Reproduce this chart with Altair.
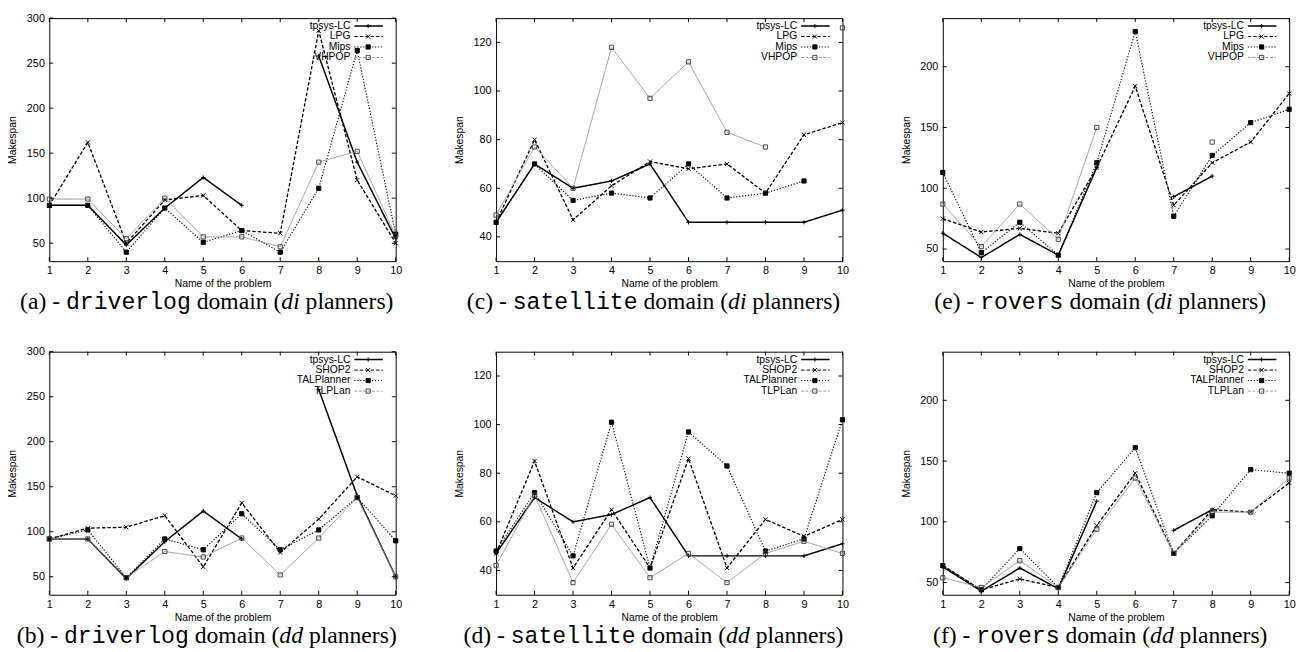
import altair as alt
import pandas as pd

problems = list(range(1, 11))

di_names = ["tpsys-LC", "LPG", "Mips", "VHPOP"]
dd_names = ["tpsys-LC", "SHOP2", "TALPlanner", "TLPLan"]

# driverlog
drv_di_tpsys = [92, 92, 48, 89, 123, 92, None, 258, 140, 55]
drv_di_lpg = [92, 162, 50, 98, 103, 64, 61, 286, 120, 50]
drv_di_mips = [92, 92, 40, 89, 51, 64, 40, 111, 264, 60]
drv_di_vhpop = [99, 99, 55, 100, 57, 57, 46, 140, 152, 58]
drv_dd_tpsys = [92, 92, 48, 89, 123, 92, None, 258, 140, 50]
drv_dd_shop2 = [92, 104, 105, 118, 61, 132, 77, 114, 161, 140]
drv_dd_tal = [92, 102, 49, 92, 80, 120, 80, 102, 138, 90]
drv_dd_tlplan = [92, 92, 49, 78, 72, 93, 52, 93, 138, 50]

# satellite
sat_di_tpsys = [46, 70, 60, 63, 70, 46, 46, 46, 46, 51]
sat_di_lpg = [46, 80, 47, 61, 71, 68, 70, 58, 82, 87]
sat_di_mips = [46, 70, 55, 58, 56, 70, 56, 58, 63, None]
sat_di_vhpop = [49, 77, 60, 118, 97, 112, 83, 77, None, 126]
sat_dd_tpsys = [47, 70, 60, 63, 70, 46, 46, 46, 46, 51]
sat_dd_shop2 = [47, 85, 41, 65, 41, 86, 41, 61, 54, 61]
sat_dd_tal = [48, 72, 46, 101, 41, 97, 83, 48, 53, 102]
sat_dd_tlplan = [42, 71, 35, 59, 37, 47, 35, 47, 52, 47]

# rovers
rov_di_tpsys = [63, 43, 62, 45, 117, None, 93, 110, None, None]
rov_di_lpg = [75, 64, 67, 63, 117, 184, 86, 121, 138, 178]
rov_di_mips = [113, 47, 72, 45, 121, 229, 77, 127, 154, 165]
rov_di_vhpop = [87, 52, 87, 58, 150, None, None, 138, None, None]
rov_dd_tpsys = [63, 43, 62, 45, 117, None, 93, 110, None, None]
rov_dd_shop2 = [64, 44, 53, 46, 97, 140, 74, 110, 108, 132]
rov_dd_tal = [64, 44, 78, 46, 124, 161, 74, 105, 143, 140]
rov_dd_tlplan = [54, 46, 68, 46, 94, 136, 74, 108, 108, 136]

drv_domain = [30, 300]
drv_ticks = [50, 100, 150, 200, 250, 300]
sat_domain = [30, 130]
sat_ticks = [40, 60, 80, 100, 120]
rov_domain = [40, 240]
rov_ticks = [50, 100, 150, 200]

W, H = 352, 247
STYLES = ["s0", "s1", "s2", "s3"]
dash_range = [[1, 0], [3.5, 2], [1.2, 1.8], [1, 0]]
leg_dash_range = [[1, 0], [3.5, 2], [1.2, 1.8], [3, 1.5]]
color_range = ["#000000", "#000000", "#000000", "#999999"]
width_range = [1.5, 1, 1, 1]
shape_range = ["M-1,0L1,0M0,-1L0,1", "M-1,-1L1,1M-1,1L1,-1", "square", "square"]
fill_range = ["transparent", "transparent", "#000000", "transparent"]
pstroke_range = ["#000000", "#000000", "#000000", "#444444"]
LEG_ROWS = [8, 18.7, 29.3, 40]

SANS = "Liberation Sans"
SERIF = "Liberation Serif"
MONO = "Liberation Mono"

SERIF_W = {"(": 333, ")": 333, " ": 250, "-": 333, "a": 444, "b": 500, "c": 444,
           "d": 500, "e": 444, "f": 333, "i": 278, "l": 278, "m": 778, "n": 500,
           "o": 500, "p": 500, "r": 333, "s": 389, "t": 278, "v": 500}
SERIF_SIZE = 24
MONO_SIZE = 23.5


def seg_width(s, kind):
    if kind == "mono":
        return 0.6 * MONO_SIZE * len(s)
    return sum(SERIF_W.get(c, 500) for c in s) / 1000 * SERIF_SIZE


def make_df(names, series):
    rows = []
    for k, (name, vals) in enumerate(zip(names, series)):
        run = 0
        prev_none = True
        for p, v in zip(problems, vals):
            if v is None:
                prev_none = True
                continue
            if prev_none:
                run += 1
                prev_none = False
            rows.append({"problem": p, "value": v, "style": STYLES[k],
                         "series": name, "seg": f"{STYLES[k]}_{run}"})
    return pd.DataFrame(rows)


def panel(letter, domain_name, kind, names, series, ydomain, yticks):
    df = make_df(names, series)
    xscale = alt.Scale(domain=[1, 10], nice=False, zero=False)
    yscale = alt.Scale(domain=ydomain, nice=False, zero=False)
    xaxis = alt.Axis(values=problems, title="Name of the problem", format="d",
                     labelFont=SANS, labelFontSize=11, labelColor="#000",
                     titleFont=SANS, titleFontSize=10.5, titleFontWeight="normal",
                     titleColor="#000", domain=False, ticks=False, grid=False,
                     labelPadding=4, titlePadding=3, labelFlush=False, labelOverlap=False)
    yaxis = alt.Axis(values=yticks, title="Makespan", format="d",
                     labelFont=SANS, labelFontSize=11, labelColor="#000",
                     titleFont=SANS, titleFontSize=10.5, titleFontWeight="normal",
                     titleColor="#000", domain=False, ticks=False, grid=False,
                     labelPadding=5, titlePadding=9, labelOverlap=False)

    def X(f):
        return alt.X(f, scale=xscale, axis=xaxis)

    def Y(f):
        return alt.Y(f, scale=yscale, axis=yaxis)

    color = alt.Color("style:N", scale=alt.Scale(domain=STYLES, range=color_range), legend=None)
    dash = alt.StrokeDash("style:N", scale=alt.Scale(domain=STYLES, range=dash_range), legend=None)
    sw = alt.StrokeWidth("style:N", scale=alt.Scale(domain=STYLES, range=width_range), legend=None)
    shape = alt.Shape("style:N", scale=alt.Scale(domain=STYLES, range=shape_range), legend=None)
    fill = alt.Fill("style:N", scale=alt.Scale(domain=STYLES, range=fill_range), legend=None)
    pstroke = alt.Stroke("style:N", scale=alt.Scale(domain=STYLES, range=pstroke_range), legend=None)

    base = alt.Chart(df)
    lines = base.mark_line().encode(x=X("problem:Q"), y=Y("value:Q"), color=color,
                                    strokeDash=dash, strokeWidth=sw, detail="seg:N")
    points = base.mark_point(filled=False, size=18, strokeWidth=1, opacity=1).encode(
        x=X("problem:Q"), y=Y("value:Q"), shape=shape, fill=fill, stroke=pstroke)

    dy = pd.DataFrame({"v": yticks})
    dx = pd.DataFrame({"v": problems})
    tk_l = alt.Chart(dy).mark_rule(color="#000", strokeWidth=1).encode(
        y=Y("v:Q"), x=alt.value(0), x2=alt.value(4))
    tk_r = alt.Chart(dy).mark_rule(color="#000", strokeWidth=1).encode(
        y=Y("v:Q"), x=alt.value(W - 4), x2=alt.value(W))
    tk_b = alt.Chart(dx).mark_rule(color="#000", strokeWidth=1).encode(
        x=X("v:Q"), y=alt.value(H - 4), y2=alt.value(H))
    tk_t = alt.Chart(dx).mark_rule(color="#000", strokeWidth=1).encode(
        x=X("v:Q"), y=alt.value(0), y2=alt.value(4))

    layers = [lines, points, tk_l, tk_r, tk_b, tk_t]

    for i, (name, st) in enumerate(zip(names, STYLES)):
        ldf = pd.DataFrame({"name": [name], "style": [st]})
        lb = alt.Chart(ldf)
        ry = alt.value(LEG_ROWS[i])
        layers.append(lb.mark_text(align="right", baseline="middle", font=SANS, fontSize=10.5,
                                   color="#000").encode(y=ry, x=alt.value(W - 46), text="name:N"))
        layers.append(lb.mark_rule(color=color_range[i], strokeWidth=width_range[i],
                                   strokeDash=leg_dash_range[i]).encode(
            y=ry, x=alt.value(W - 42), x2=alt.value(W - 13)))
        layers.append(lb.mark_point(filled=False, size=18, strokeWidth=1, opacity=1).encode(
            y=ry, x=alt.value(W - 28), shape=shape, fill=fill, stroke=pstroke))

    segs = [(f"({letter})", "serif", 1), ("-", "serif", 1), (domain_name, "mono", 1),
            ("domain", "serif", 1), ("(", "serif", 0), (kind, "italic", 1),
            ("planners)", "serif", 0)]
    space = SERIF_W[" "] / 1000 * SERIF_SIZE
    total = sum(seg_width(s, k) + sp * space for s, k, sp in segs)
    x0 = 160 - total / 2
    for s, k, sp in segs:
        cdf = pd.DataFrame({"t": [s]})
        kw = dict(align="left", baseline="alphabetic", color="#000")
        if k == "mono":
            kw.update(font=MONO, fontSize=MONO_SIZE)
        elif k == "italic":
            kw.update(font=SERIF, fontSize=SERIF_SIZE, fontStyle="italic")
        else:
            kw.update(font=SERIF, fontSize=SERIF_SIZE)
        layers.append(alt.Chart(cdf).mark_text(**kw).encode(
            x=alt.value(x0), y=alt.value(H + 49), text="t:N"))
        x0 += seg_width(s, k) + sp * space

    return alt.layer(*layers).properties(width=W, height=H)


pa = panel("a", "driverlog", "di", di_names,
           [drv_di_tpsys, drv_di_lpg, drv_di_mips, drv_di_vhpop], drv_domain, drv_ticks)
pb = panel("b", "driverlog", "dd", dd_names,
           [drv_dd_tpsys, drv_dd_shop2, drv_dd_tal, drv_dd_tlplan], drv_domain, drv_ticks)
pc = panel("c", "satellite", "di", di_names,
           [sat_di_tpsys, sat_di_lpg, sat_di_mips, sat_di_vhpop], sat_domain, sat_ticks)
pd_ = panel("d", "satellite", "dd", dd_names,
            [sat_dd_tpsys, sat_dd_shop2, sat_dd_tal, sat_dd_tlplan], sat_domain, sat_ticks)
pe = panel("e", "rovers", "di", di_names,
           [rov_di_tpsys, rov_di_lpg, rov_di_mips, rov_di_vhpop], rov_domain, rov_ticks)
pf = panel("f", "rovers", "dd", dd_names,
           [rov_dd_tpsys, rov_dd_shop2, rov_dd_tal, rov_dd_tlplan], rov_domain, rov_ticks)

chart = alt.concat(pa, pc, pe, pb, pd_, pf, columns=3,
                   spacing={"row": 92, "column": 102}, bounds="flush").properties(
    padding={"left": -1, "top": -2, "right": 5, "bottom": 5},
    background="white",
).configure_view(stroke="#000", strokeWidth=1)

chart.save("out.html", embed_options={"renderer": "svg", "actions": False})
